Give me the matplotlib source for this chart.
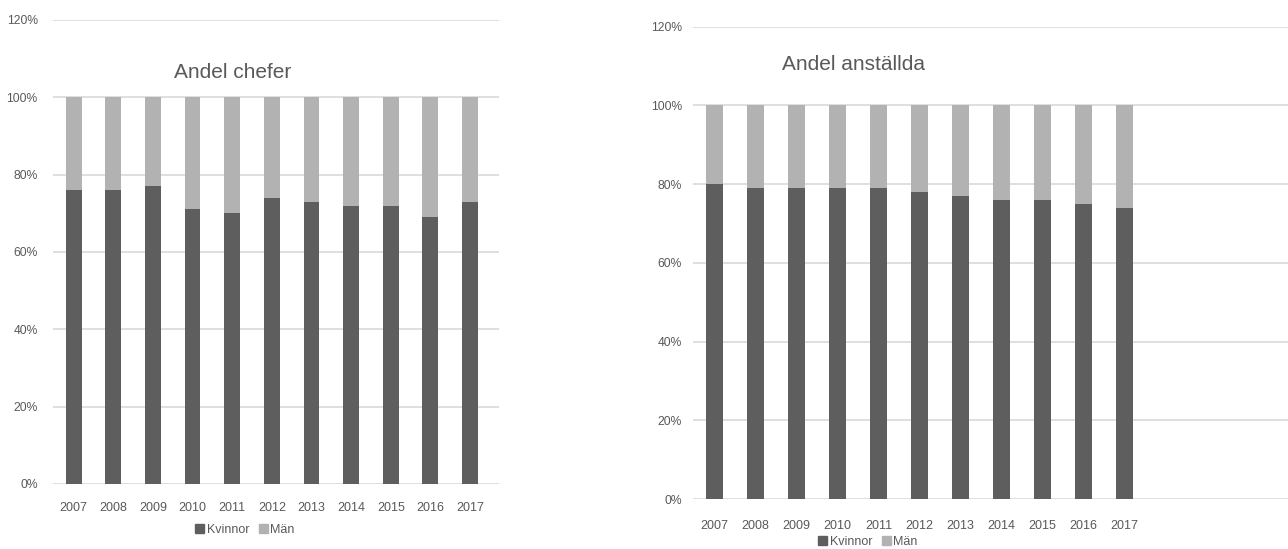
import matplotlib
matplotlib.use("Agg")
import matplotlib.pyplot as plt
from matplotlib.patches import Patch
from matplotlib.ticker import PercentFormatter
import numpy as np

plt.rcParams["font.family"] = ["Liberation Sans", "DejaVu Sans"]

years = ["2007", "2008", "2009", "2010", "2011", "2012", "2013", "2014", "2015", "2016", "2017"]
chefer_kvinnor = [76, 76, 77, 71, 70, 74, 73, 72, 72, 69, 73]
chefer_man = [100 - v for v in chefer_kvinnor]
anstallda_kvinnor = [80, 79, 79, 79, 79, 78, 77, 76, 76, 75, 74]
anstallda_man = [100 - v for v in anstallda_kvinnor]

DARK = "#5e5e5e"
LIGHT = "#b2b2b2"
GRID = "#d9d9d9"
TXT = "#595959"

fig = plt.figure(figsize=(12.88, 5.49), dpi=100)
fig.patch.set_facecolor("white")

W, H = 1288, 549


def panel(rect, kv, mn, xmax, width, pad_y, pad_x):
    ax = fig.add_axes(rect)
    x = np.arange(len(years))
    ax.bar(x, kv, width=width, color=DARK, zorder=2)
    ax.bar(x, mn, width=width, bottom=kv, color=LIGHT, zorder=2)
    ax.set_ylim(0, 120)
    ax.set_xlim(-0.52, xmax)
    ax.set_yticks(range(0, 121, 20))
    ax.yaxis.set_major_formatter(PercentFormatter(decimals=0))
    ax.set_xticks(x)
    ax.set_xticklabels(years)
    ax.grid(axis="y", color=GRID, lw=1.2, zorder=0)
    for s in ax.spines.values():
        s.set_visible(False)
    ax.tick_params(axis="y", length=0, pad=pad_y, labelsize=8.7, labelcolor=TXT)
    ax.tick_params(axis="x", length=0, pad=pad_x, labelsize=9, labelcolor=TXT)
    return ax


# Andel chefer
ax1 = panel([53 / W, 1 - 484 / H, 446 / W, 464 / H],
            chefer_kvinnor, chefer_man, 10.73, 0.40, 11, 13)
# Andel anställda
ax2 = panel([693 / W, 1 - 499 / H, 595 / W, 472.3 / H],
            anstallda_kvinnor, anstallda_man, 13.98, 0.41, 8, 15)

fig.text(233 / W, 1 - 73 / H, "Andel chefer", ha="center", va="center",
         fontsize=15, color=TXT)
fig.text(853 / W, 1 - 65 / H, "Andel anställda", ha="center", va="center",
         fontsize=15, color=TXT)

handles = [Patch(color=DARK, label="Kvinnor"), Patch(color=LIGHT, label="Män")]
for cx, cy in [(245, 530), (868, 542)]:
    fig.legend(handles=handles, loc="center", bbox_to_anchor=(cx / W, 1 - cy / H),
               ncol=2, frameon=False, fontsize=9, handlelength=0.7,
               handleheight=0.7, handletextpad=0.2, columnspacing=0.8,
               labelcolor=TXT, borderpad=0)

fig.savefig("out.png", dpi=100)
